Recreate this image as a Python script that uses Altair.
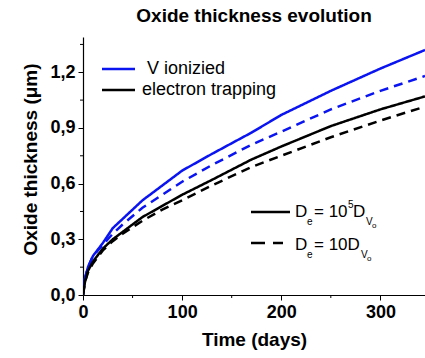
import altair as alt
import pandas as pd

days = [0, 2, 5, 10, 20, 30, 40, 60, 80, 100, 130, 170, 200, 250, 300, 345]
v_ion_fast = [0, 0.09, 0.15, 0.21, 0.28, 0.36, 0.41, 0.51, 0.59, 0.67, 0.76, 0.875, 0.97, 1.10, 1.22, 1.32]
v_ion_slow = [0, 0.09, 0.15, 0.21, 0.27, 0.33, 0.38, 0.47, 0.54, 0.61, 0.70, 0.81, 0.88, 1.00, 1.10, 1.18]
trap_fast = [0, 0.07, 0.13, 0.18, 0.25, 0.30, 0.34, 0.42, 0.48, 0.54, 0.62, 0.73, 0.80, 0.91, 1.00, 1.07]
trap_slow = [0, 0.07, 0.12, 0.17, 0.24, 0.29, 0.33, 0.40, 0.46, 0.51, 0.59, 0.69, 0.75, 0.85, 0.94, 1.015]

x_major = [0, 100, 200, 300]
x_minor = [50, 150, 250]
y_major = [0.0, 0.3, 0.6, 0.9, 1.2]
y_minor = [0.15, 0.45, 0.75, 1.05, 1.35]

rows = []
for name, mech, dif, vals in [
    ("vf", "V ionizied", "fast", v_ion_fast),
    ("vs", "V ionizied", "slow", v_ion_slow),
    ("tf", "electron trapping", "fast", trap_fast),
    ("ts", "electron trapping", "slow", trap_slow),
]:
    for d, v in zip(days, vals):
        rows.append({"series": name, "mech": mech, "dif": dif, "day": d, "thk": v})
df = pd.DataFrame(rows)

xs = alt.Scale(domain=[0, 345], nice=False, zero=False)
ys = alt.Scale(domain=[0, 1.39], nice=False)

lab = "replace(format(datum.value, '.1f'), '.', ',')"
F = "Liberation Sans"

lines = alt.Chart(df).mark_line(strokeWidth=2.5, clip=True).encode(
    x=alt.X("day:Q", scale=xs, axis=alt.Axis(
        values=x_major, title="Time (days)", titleFontSize=19, titleFont=F,
        titleFontWeight="bold", labelFontSize=18, labelFont=F, labelFontWeight="bold",
        labelColor="black", titleColor="black", domainColor="black", tickColor="black",
        tickSize=5, tickWidth=1, domainWidth=1.2, grid=False, labelPadding=3, titlePadding=9,
        labelFlush=False)),
    y=alt.Y("thk:Q", scale=ys, axis=alt.Axis(
        values=y_major, labelExpr=lab, title="Oxide thickness (μm)", titleFontSize=19,
        titleFont=F, titleFontWeight="bold", labelFontSize=18,
        labelFont=F, labelFontWeight="bold", labelColor="black",
        titleColor="black", domainColor="black", tickColor="black", tickSize=5, tickWidth=1,
        domainWidth=1.2, grid=False, labelPadding=3, titlePadding=9, titleY=122)),
    color=alt.Color("mech:N", scale=alt.Scale(domain=["V ionizied", "electron trapping"],
                                              range=["#0a14f0", "#000000"]), legend=None),
    strokeDash=alt.StrokeDash("dif:N", scale=alt.Scale(domain=["fast", "slow"],
                                                       range=[[1, 0], [9, 6]]), legend=None),
    detail="series:N",
)

ymin_df = pd.DataFrame({"v": y_minor})
xmin_df = pd.DataFrame({"v": x_minor})
yminor = alt.Chart(ymin_df).mark_rule(color="black", strokeWidth=1).encode(
    y=alt.Y("v:Q", scale=ys), x=alt.value(-3), x2=alt.value(0))
xminor = alt.Chart(xmin_df).mark_rule(color="black", strokeWidth=1).encode(
    x=alt.X("v:Q", scale=xs), y=alt.value(258), y2=alt.value(261))

one = pd.DataFrame({"a": [0]})


def seg(x1, x2, y, color, dash=None):
    kw = dict(color=color, strokeWidth=2.5)
    if dash:
        kw["strokeDash"] = dash
    return alt.Chart(one).mark_rule(**kw).encode(x=alt.value(x1), x2=alt.value(x2), y=alt.value(y))


def txt(t, x, y, size=18, baseline="middle"):
    return alt.Chart(one).mark_text(text=t, align="left", baseline=baseline, fontSize=size,
                                    font=F, color="black").encode(
        x=alt.value(x), y=alt.value(y))


ox, oy = 83, 37
leg = [
    seg(102 - ox, 135 - ox, 69 - oy, "#0a14f0"),
    seg(102 - ox, 135 - ox, 90 - oy, "black"),
    txt("V ionizied", 147 - ox, 69 - oy),
    txt("electron trapping", 142 - ox, 90 - oy),
    seg(251 - ox, 290 - ox, 212 - oy, "black"),
    seg(251 - ox, 283 - ox, 243 - oy, "black", [14, 8]),
    txt("D", 295 - ox, 212 - oy, 17),
    txt("e", 307 - ox, 222 - oy, 10),
    txt("= 10", 314 - ox, 212 - oy, 17),
    txt("5", 348 - ox, 205 - oy, 10),
    txt("D", 353 - ox, 212 - oy, 17),
    txt("V", 366 - ox, 222 - oy, 10),
    txt("o", 372 - ox, 226 - oy, 8),
    txt("D", 295 - ox, 245 - oy, 17),
    txt("e", 307 - ox, 255 - oy, 10),
    txt("= 10D", 314 - ox, 245 - oy, 17),
    txt("V", 361 - ox, 255 - oy, 10),
    txt("o", 367 - ox, 259 - oy, 8),
]

chart = alt.layer(lines, yminor, xminor, *leg).properties(
    width=342, height=258,
    title=alt.TitleParams("Oxide thickness evolution", fontSize=19, font=F,
                          fontWeight="bold", color="black", anchor="middle", offset=11),
    autosize=alt.AutoSizeParams(type="none"),
    padding={"left": 83, "top": 37, "right": 0, "bottom": 63},
    background="white",
).configure_view(stroke=None)

chart.save("out.html", embed_options={"renderer": "svg", "actions": False})
